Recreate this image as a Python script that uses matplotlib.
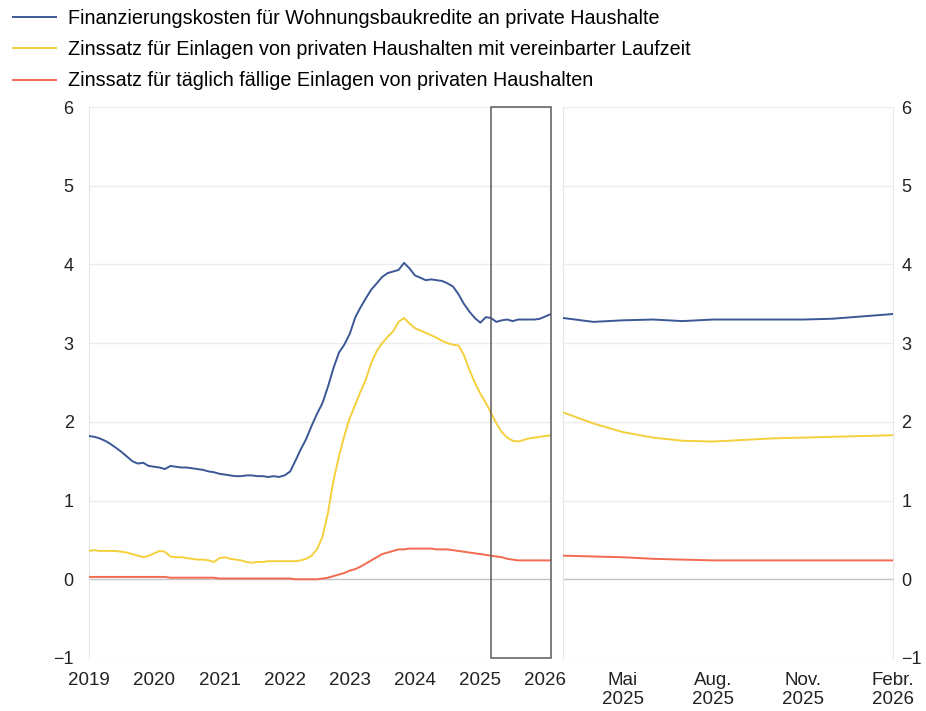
import pandas as pd
import matplotlib
matplotlib.use("Agg")
import matplotlib.pyplot as plt
import matplotlib.dates as mdates
from matplotlib.patches import Rectangle

plt.rcParams['font.family'] = ['Liberation Sans', 'DejaVu Sans']

# =========================
# DATA (monthly, Jan 2019 - Feb 2026, in %)
# =========================
dates = pd.date_range("2019-01-01", "2026-02-01", freq="MS")

wohnungsbau = [
    1.82, 1.81, 1.79, 1.76, 1.72, 1.67, 1.62, 1.56, 1.50, 1.47, 1.48, 1.44,  # 2019
    1.43, 1.42, 1.40, 1.44, 1.43, 1.42, 1.42, 1.41, 1.40, 1.39, 1.37, 1.36,  # 2020
    1.34, 1.33, 1.32, 1.31, 1.31, 1.32, 1.32, 1.31, 1.31, 1.30, 1.31, 1.30,  # 2021
    1.32, 1.37, 1.50, 1.65, 1.78, 1.95, 2.10, 2.24, 2.45, 2.68, 2.88, 2.98,  # 2022
    3.12, 3.33, 3.45, 3.57, 3.68, 3.76, 3.84, 3.89, 3.91, 3.93, 4.02, 3.95,  # 2023
    3.86, 3.83, 3.80, 3.81, 3.80, 3.79, 3.76, 3.72, 3.62, 3.50, 3.40, 3.32,  # 2024
    3.26, 3.33, 3.32, 3.27, 3.29, 3.30, 3.28, 3.30, 3.30, 3.30, 3.30, 3.31,  # 2025
    3.34, 3.37,                                                              # 2026
]

einlagen_laufzeit = [
    0.36, 0.37, 0.36, 0.36, 0.36, 0.36, 0.35, 0.34, 0.32, 0.30, 0.28, 0.30,
    0.33, 0.36, 0.35, 0.29, 0.28, 0.28, 0.27, 0.26, 0.25, 0.25, 0.24, 0.22,
    0.27, 0.28, 0.26, 0.25, 0.24, 0.22, 0.21, 0.22, 0.22, 0.23, 0.23, 0.23,
    0.23, 0.23, 0.23, 0.24, 0.26, 0.30, 0.38, 0.54, 0.85, 1.25, 1.56, 1.82,
    2.05, 2.22, 2.38, 2.54, 2.75, 2.90, 3.00, 3.08, 3.15, 3.27, 3.32, 3.25,
    3.19, 3.16, 3.13, 3.10, 3.07, 3.03, 3.00, 2.98, 2.97, 2.85, 2.66, 2.50,
    2.36, 2.24, 2.12, 1.98, 1.87, 1.80, 1.76, 1.75, 1.77, 1.79, 1.80, 1.81,
    1.82, 1.83,
]

einlagen_taeglich = [
    0.03, 0.03, 0.03, 0.03, 0.03, 0.03, 0.03, 0.03, 0.03, 0.03, 0.03, 0.03,
    0.03, 0.03, 0.03, 0.02, 0.02, 0.02, 0.02, 0.02, 0.02, 0.02, 0.02, 0.02,
    0.01, 0.01, 0.01, 0.01, 0.01, 0.01, 0.01, 0.01, 0.01, 0.01, 0.01, 0.01,
    0.01, 0.01, 0.00, 0.00, 0.00, 0.00, 0.00, 0.01, 0.02, 0.04, 0.06, 0.08,
    0.11, 0.13, 0.16, 0.20, 0.24, 0.28, 0.32, 0.34, 0.36, 0.38, 0.38, 0.39,
    0.39, 0.39, 0.39, 0.39, 0.38, 0.38, 0.38, 0.37, 0.36, 0.35, 0.34, 0.33,
    0.32, 0.31, 0.30, 0.29, 0.28, 0.26, 0.25, 0.24, 0.24, 0.24, 0.24, 0.24,
    0.24, 0.24,
]

labels = [
    "Finanzierungskosten für Wohnungsbaukredite an private Haushalte",
    "Zinssatz für Einlagen von privaten Haushalten mit vereinbarter Laufzeit",
    "Zinssatz für täglich fällige Einlagen von privaten Haushalten",
]
colors = ["#3b5896", "#f3d03c", "#f26a4f"]

zoom_start = pd.Timestamp("2025-03-01")
zoom_end = pd.Timestamp("2026-02-01")
zoom_ticks = pd.to_datetime(["2025-05-01", "2025-08-01", "2025-11-01", "2026-02-01"])
zoom_ticklabels = ["Mai\n2025", "Aug.\n2025", "Nov.\n2025", "Febr.\n2026"]
year_ticks = pd.date_range("2019-01-01", "2026-01-01", freq="YS")

# =========================
# FIGURE
# =========================
fig = plt.figure(figsize=(9.26, 7.11), dpi=100)
ax1 = fig.add_axes([89 / 926, 1 - 658 / 711, (551 - 89) / 926, (658 - 107) / 711])
ax2 = fig.add_axes([563 / 926, 1 - 658 / 711, (893 - 563) / 926, (658 - 107) / 711])

series = [wohnungsbau, einlagen_laufzeit, einlagen_taeglich]
for ax in (ax1, ax2):
    for i in range(1, 7):
        ax.axhline(i, color="#ececec", lw=1, zorder=0)
    ax.axhline(-1, color="#ececec", lw=1, zorder=0)
    ax.axhline(0, color="#c4c4c4", lw=1, zorder=1)
    lines = []
    for s, lab, c in zip(series, labels, colors):
        ln, = ax.plot(dates, s, color=c, lw=1.4, label=lab, zorder=3)
        lines.append(ln)
    ax.set_ylim(-1, 6)
    ax.set_yticks(range(-1, 7))
    ax.set_yticklabels([str(v) if v >= 0 else "\u22121" for v in range(-1, 7)])
    ax.tick_params(length=0, labelsize=13, colors="#222222")
    for sp in ax.spines.values():
        sp.set_visible(False)

# left panel
ax1.set_xlim(dates[0], dates[-1])
ax1.set_xticks(year_ticks)
ax1.xaxis.set_major_formatter(mdates.DateFormatter("%Y"))
ax1.tick_params(axis="x", pad=10, labelsize=13.5)
ax1.tick_params(axis="y", pad=11)
ax1.spines["left"].set_visible(True)
ax1.spines["left"].set_color("#e6e6e6")
x0 = mdates.date2num(zoom_start)
x1 = mdates.date2num(zoom_end)
ax1.add_patch(Rectangle((x0, -1), x1 - x0, 7, fill=False, edgecolor="#5a5a5a",
                        lw=1.1, clip_on=False, zorder=5))

# right panel (zoom)
ax2.set_xlim(zoom_start, zoom_end)
ax2.set_xticks(zoom_ticks)
ax2.set_xticklabels(zoom_ticklabels)
ax2.tick_params(axis="x", pad=10, labelsize=13.5)
ax2.yaxis.tick_right()
ax2.tick_params(axis="y", pad=6)
for side in ("left", "right"):
    ax2.spines[side].set_visible(True)
    ax2.spines[side].set_color("#e6e6e6")

fig.legend(handles=lines, loc="upper left", bbox_to_anchor=(13 / 926, 1 - 9 / 711),
           frameon=False, fontsize=14.2, handlelength=2.2, handletextpad=0.6,
           labelspacing=0.62, borderpad=0, borderaxespad=0)

fig.savefig("out.png", dpi=100)
